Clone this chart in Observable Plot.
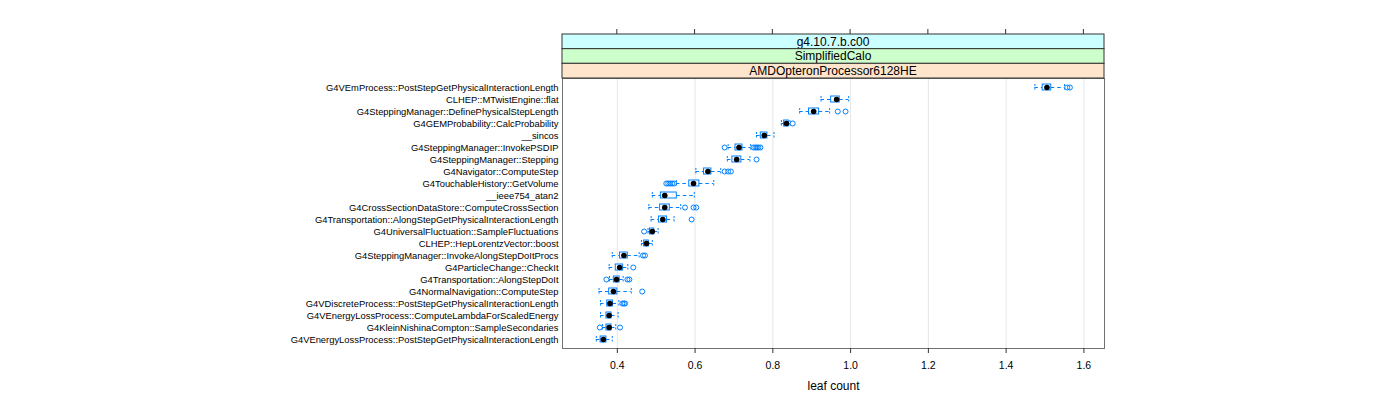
<!DOCTYPE html>
<html>
<head>
<meta charset="utf-8">
<script src="https://cdn.jsdelivr.net/npm/d3@7"></script>
<script src="https://cdn.jsdelivr.net/npm/@observablehq/plot@0.6"></script>
<style>
  html, body { margin: 0; padding: 0; background: #fff; }
  #chart { width: 1400px; height: 400px; }
</style>
</head>
<body>
<div id="chart"></div>
<script>
// ---- data (top to bottom) ----
const names = [
  "G4VEmProcess::PostStepGetPhysicalInteractionLength",
  "CLHEP::MTwistEngine::flat",
  "G4SteppingManager::DefinePhysicalStepLength",
  "G4GEMProbability::CalcProbability",
  "__sincos",
  "G4SteppingManager::InvokePSDIP",
  "G4SteppingManager::Stepping",
  "G4Navigator::ComputeStep",
  "G4TouchableHistory::GetVolume",
  "__ieee754_atan2",
  "G4CrossSectionDataStore::ComputeCrossSection",
  "G4Transportation::AlongStepGetPhysicalInteractionLength",
  "G4UniversalFluctuation::SampleFluctuations",
  "CLHEP::HepLorentzVector::boost",
  "G4SteppingManager::InvokeAlongStepDoItProcs",
  "G4ParticleChange::CheckIt",
  "G4Transportation::AlongStepDoIt",
  "G4NormalNavigation::ComputeStep",
  "G4VDiscreteProcess::PostStepGetPhysicalInteractionLength",
  "G4VEnergyLossProcess::ComputeLambdaForScaledEnergy",
  "G4KleinNishinaCompton::SampleSecondaries",
  "G4VEnergyLossProcess::PostStepGetPhysicalInteractionLength"
];
const whiskerLow  = [1.474, 0.924, 0.869, 0.822, 0.758, 0.685, 0.683, 0.602, 0.552, 0.490, 0.481, 0.487, 0.479, 0.462, 0.387, 0.379, 0.380, 0.353, 0.357, 0.357, 0.362, 0.346];
const q1          = [1.494, 0.950, 0.893, 0.829, 0.769, 0.704, 0.696, 0.623, 0.585, 0.512, 0.510, 0.507, 0.484, 0.469, 0.407, 0.396, 0.391, 0.379, 0.374, 0.372, 0.372, 0.357];
const medians     = [1.505, 0.964, 0.905, 0.835, 0.778, 0.713, 0.707, 0.633, 0.596, 0.522, 0.522, 0.517, 0.490, 0.475, 0.417, 0.406, 0.398, 0.390, 0.381, 0.379, 0.379, 0.364];
const q3          = [1.516, 0.972, 0.919, 0.841, 0.786, 0.722, 0.719, 0.642, 0.611, 0.553, 0.535, 0.528, 0.495, 0.481, 0.427, 0.415, 0.406, 0.400, 0.389, 0.385, 0.385, 0.372];
const whiskerHigh = [1.550, 0.995, 0.946, 0.844, 0.803, 0.743, 0.741, 0.666, 0.648, 0.598, 0.563, 0.546, 0.505, 0.490, 0.456, 0.427, 0.415, 0.436, 0.404, 0.402, 0.396, 0.387];
const outliers = [
  [1.557, 1.564],
  [],
  [0.967, 0.987],
  [0.851],
  [],
  [0.676, 0.750, 0.755, 0.759, 0.763, 0.768],
  [0.758],
  [0.676, 0.685, 0.692],
  [0.526, 0.531, 0.536, 0.541, 0.546],
  [],
  [0.574, 0.596, 0.603],
  [0.591],
  [0.469],
  [],
  [0.466, 0.471],
  [0.441],
  [0.372, 0.426, 0.431],
  [0.464],
  [0.413, 0.417, 0.420],
  [],
  [0.355, 0.407],
  []
];
const xTicks = [0.4, 0.6, 0.8, 1.0, 1.2, 1.4, 1.6];
const stripLabels = ["g4.10.7.b.c00", "SimplifiedCalo", "AMDOpteronProcessor6128HE"];
const stripColors = ["#ccffff", "#ccffcc", "#ffe5cc"];
const xLabel = "leaf count";

// ---- tables built from the arrays ----
const rows = names.map((name, i) => ({
  name, lo: whiskerLow[i], q1: q1[i], med: medians[i], q3: q3[i], hi: whiskerHigh[i]
}));
const outRows = names.flatMap((name, i) => outliers[i].map(value => ({name, value})));

const blue = "#0080ff";
const font = "'Liberation Sans', Arial, Helvetica, sans-serif";

const plot = Plot.plot({
  width: 1400,
  height: 400,
  marginLeft: 562,
  marginRight: 296,
  marginTop: 78,
  marginBottom: 52,
  style: {fontFamily: font, fontSize: "9.4px", background: "white", color: "#000"},
  x: {domain: [0.259, 1.653], label: null},
  y: {type: "band", domain: names, paddingInner: 0.5, paddingOuter: 0.35, label: null},
  marks: [
    Plot.gridX(xTicks, {stroke: "#e6e6e6", strokeOpacity: 1}),
    Plot.frame({stroke: "#707070"}),
    Plot.axisY({tickSize: 0, tickPadding: 4, label: null, fontSize: 9.4}),
    Plot.axisX(xTicks, {tickSize: 5, tickPadding: 8, label: null, fontSize: 10.5,
      stroke: "#333", tickFormat: d => d.toFixed(1)}),
    Plot.ruleY(rows, {y: "name", x1: "lo", x2: "q1", stroke: blue, strokeDasharray: "3.5,3"}),
    Plot.ruleY(rows, {y: "name", x1: "q3", x2: "hi", stroke: blue, strokeDasharray: "3.5,3"}),
    Plot.tickX(rows, {x: "lo", y: "name", stroke: blue, strokeDasharray: "2,1.5"}),
    Plot.tickX(rows, {x: "hi", y: "name", stroke: blue, strokeDasharray: "2,1.5"}),
    Plot.barX(rows, {x1: "q1", x2: "q3", y: "name", fill: "white", stroke: blue}),
    Plot.dot(outRows, {x: "value", y: "name", r: 2.5, stroke: blue, fill: "none", strokeWidth: 1}),
    Plot.dot(rows, {x: "med", y: "name", r: 2.8, fill: "black", stroke: "none"}),
    Plot.text([xLabel], {text: d => d, frameAnchor: "bottom", dy: 38, fontSize: 12, lineAnchor: "middle"})
  ]
});

document.getElementById("chart").appendChild(plot);

// ---- strips and top ticks, placed with the plot's own x scale ----
const xs = plot.scale("x");
const [x0, x1] = xs.range;
const svg = d3.select(plot);
const stripTop = 34, stripH = (78 - 34) / 3;
const g = svg.append("g");
stripLabels.forEach((lab, i) => {
  g.append("rect")
    .attr("x", x0).attr("y", stripTop + i * stripH)
    .attr("width", x1 - x0).attr("height", stripH)
    .attr("fill", stripColors[i]).attr("stroke", "#333").attr("stroke-width", 1);
  g.append("text")
    .attr("x", (x0 + x1) / 2).attr("y", stripTop + i * stripH + stripH / 2)
    .attr("text-anchor", "middle").attr("dy", "0.36em")
    .attr("font-family", font).attr("font-size", "12px").attr("fill", "#000")
    .text(lab);
});
xTicks.forEach(t => {
  const xp = xs.apply(t);
  g.append("line").attr("x1", xp).attr("x2", xp).attr("y1", stripTop - 5).attr("y2", stripTop)
    .attr("stroke", "#333");
});
</script>
</body>
</html>
